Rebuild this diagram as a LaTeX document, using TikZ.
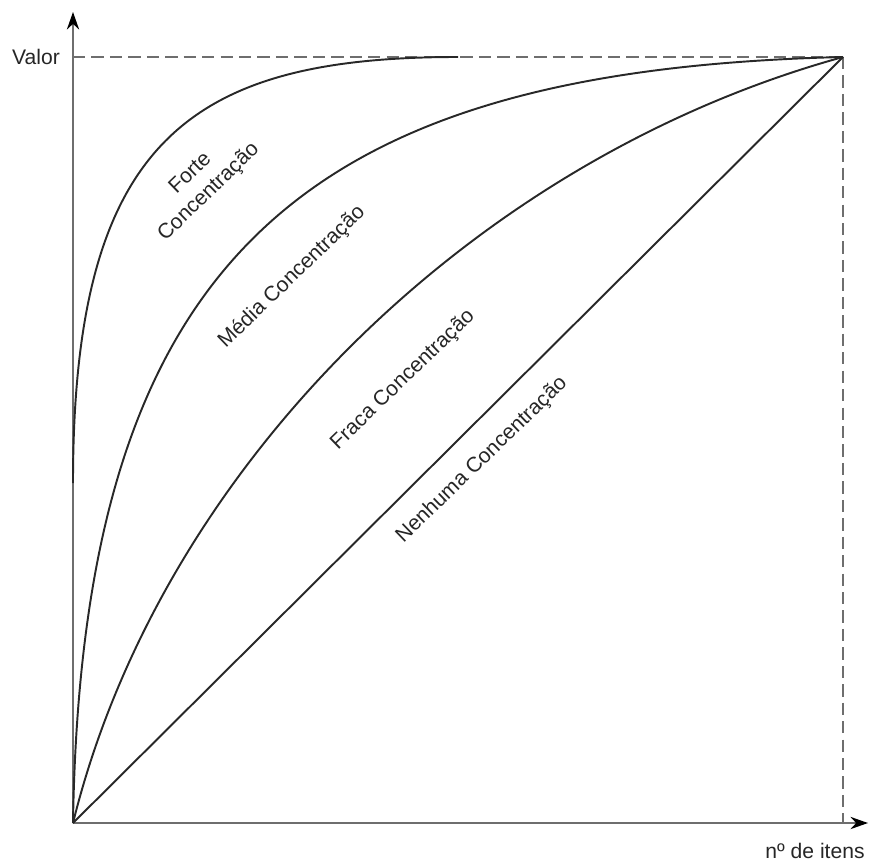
\documentclass[tikz,border=0pt]{standalone}
\usepackage{fontspec}
\setmainfont{Liberation Sans}
\usetikzlibrary{arrows.meta,positioning,calc}
\definecolor{axisgray}{RGB}{110,110,110}
\definecolor{curvedark}{RGB}{40,40,40}
\tikzset{
  axis/.style={draw=axisgray, line width=0.9pt,
               -{Stealth[length=10pt,width=7pt,color=black]}},
  guide/.style={draw=axisgray, line width=0.9pt, dashed, dash pattern=on 7pt off 3.5pt},
  curve/.style={draw=curvedark, line width=1.1pt},
  lbl/.style={font=\fontsize{12}{15}\selectfont, text=black!85, inner sep=1pt},
  curvelbl/.style={lbl, rotate=44, align=center}
}
\begin{document}
\begin{tikzpicture}[x=0.02cm, y=-0.02cm]
\useasboundingbox (0,0) rectangle (878,865);

% --- Key points ---
\coordinate (orig) at (73,823);
\coordinate (ytop) at (73,12);
\coordinate (xend) at (868,823);
\coordinate (corner) at (843,57);
\coordinate (vmark) at (73,57);
\coordinate (nmark) at (843,823);
\coordinate (fstart) at (73,483);
\coordinate (fend) at (458,57);

% --- Axes ---
\draw[axis] (orig) -- (ytop);
\draw[axis] (orig) -- (xend);
\draw[guide] (vmark) -- (corner);
\draw[guide] (corner) -- (nmark);

% --- Curves ---
\draw[curve] (fstart) .. controls (73,140) and (190,57) .. (fend);
\draw[curve] (orig) .. controls (82,260) and (300,70) .. (corner);
\draw[curve] (orig) .. controls (160,470) and (470,160) .. (corner);
\draw[curve] (orig) -- (corner);

% --- Axis labels ---
\node[lbl, anchor=east] (valor) at (62,57) {Valor};
\node[lbl] (itens) at (815,851) {nº de itens};

% --- Curve labels ---
\node[curvelbl] (forte) at (200,183) {Forte\\Concentração};
\node[curvelbl] (media) at (292,277) {Média Concentração};
\node[curvelbl] (fraca) at (403,380) {Fraca Concentração};
\node[curvelbl] (nenhuma) at (482,460) {Nenhuma Concentração};

\end{tikzpicture}
\end{document}
